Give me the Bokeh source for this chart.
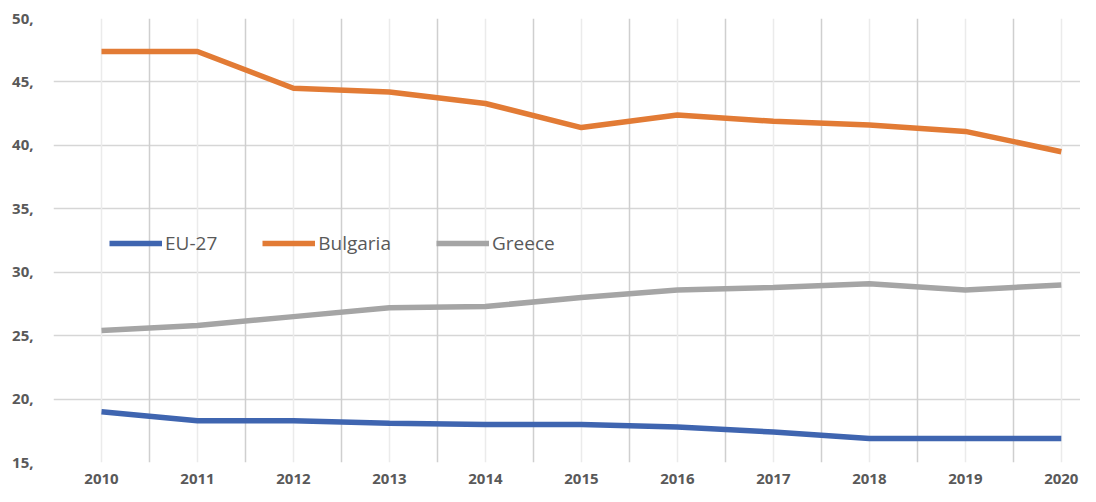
from bokeh.plotting import figure
from bokeh.models import FixedTicker, Grid, Legend, LegendItem, Range1d
from bokeh.embed import file_html
from bokeh.resources import INLINE

years = ["2010", "2011", "2012", "2013", "2014", "2015", "2016", "2017", "2018", "2019", "2020"]
eu27 = [19.0, 18.3, 18.3, 18.1, 18.0, 18.0, 17.8, 17.4, 16.9, 16.9, 16.9]
bulgaria = [47.4, 47.4, 44.5, 44.2, 43.3, 41.4, 42.4, 41.9, 41.6, 41.1, 39.5]
greece = [25.4, 25.8, 26.5, 27.2, 27.3, 28.0, 28.6, 28.8, 29.1, 28.6, 29.0]
y_ticks = [15, 20, 25, 30, 35, 40, 45, 50]
y_labels = ["15,", "20,", "25,", "30,", "35,", "40,", "45,", "50,"]

xs = list(range(len(years)))

p = figure(width=1080, height=486, output_backend="svg", toolbar_location=None,
           x_range=Range1d(-0.5, 10.2), y_range=Range1d(15, 50),
           min_border_left=53, min_border_right=0, min_border_top=18, min_border_bottom=24)
p.outline_line_color = None
p.background_fill_color = "white"

# Axes
p.xaxis.ticker = FixedTicker(ticks=xs)
p.xaxis.major_label_overrides = {i: y for i, y in enumerate(years)}
p.yaxis.ticker = FixedTicker(ticks=y_ticks)
p.yaxis.major_label_overrides = {t: l for t, l in zip(y_ticks, y_labels)}
for ax in (p.xaxis[0], p.yaxis[0]):
    ax.axis_line_color = None
    ax.major_tick_line_color = None
    ax.minor_tick_line_color = None
    ax.major_label_text_font = "Open Sans"
    ax.major_label_text_font_style = "bold"
    ax.major_label_text_color = "#595959"
    ax.major_label_text_font_size = "15px"
p.xaxis.major_label_standoff = 5
p.yaxis.major_label_standoff = 14

# Grids
p.xgrid.visible = False
p.ygrid.ticker = FixedTicker(ticks=y_ticks)
p.ygrid.grid_line_color = "#d6d6d6"
p.ygrid.grid_line_width = 1.5
boundaries = [i - 0.5 for i in range(len(years) + 1)]
minor_grid = Grid(dimension=0, ticker=FixedTicker(ticks=xs), grid_line_color="#ebebeb", grid_line_width=1.5)
major_grid = Grid(dimension=0, ticker=FixedTicker(ticks=boundaries), grid_line_color="#cfcfcf", grid_line_width=1.5)
p.add_layout(minor_grid)
p.add_layout(major_grid)

r_eu = p.line(xs, eu27, line_color="#3f65b0", line_width=5.5)
r_bg = p.line(xs, bulgaria, line_color="#e27b35", line_width=5.5)
r_gr = p.line(xs, greece, line_color="#a5a5a5", line_width=5.5)

legend = Legend(items=[LegendItem(label="EU-27", renderers=[r_eu]),
                       LegendItem(label="Bulgaria", renderers=[r_bg]),
                       LegendItem(label="Greece", renderers=[r_gr])],
                orientation="horizontal", location=(56, 206),
                background_fill_alpha=0, border_line_color=None,
                padding=0, margin=0, spacing=45, label_standoff=3,
                glyph_width=53, glyph_height=20,
                label_text_font="Open Sans", label_text_font_size="19px",
                label_text_color="#595959")
p.add_layout(legend)

open("out.html", "w").write(file_html(p, INLINE))
